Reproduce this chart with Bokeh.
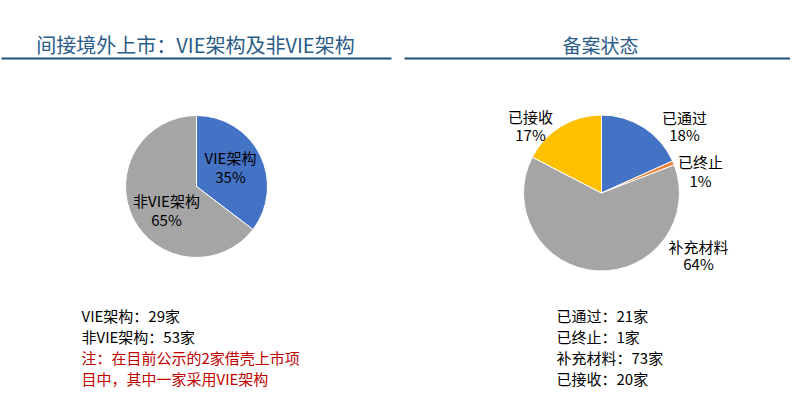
import math
from bokeh.plotting import figure
from bokeh.models import Range1d, ColumnDataSource
from bokeh.core.properties import value
from bokeh.embed import file_html
from bokeh.resources import INLINE

# ---- data ----
left_title = "间接境外上市：VIE架构及非VIE架构"
right_title = "备案状态"

left_cats = ["VIE架构", "非VIE架构"]
left_vals = [29, 53]
left_pcts = ["35%", "65%"]
left_colors = ["#4472C4", "#A5A5A5"]

right_cats = ["已通过", "已终止", "补充材料", "已接收"]
right_vals = [21, 1, 73, 20]
right_pcts = ["18%", "1%", "64%", "17%"]
right_colors = ["#4472C4", "#ED7D31", "#A5A5A5", "#FFC000"]

left_notes = ["VIE架构：29家", "非VIE架构：53家"]
left_red_notes = ["注：在目前公示的2家借壳上市项", "目中，其中一家采用VIE架构"]
right_notes = ["已通过：21家", "已终止：1家", "补充材料：73家", "已接收：20家"]

W, H = 790, 400
FONT = value("Noto Sans CJK SC")
NAVY = "#1F4E79"
TITLE_COLOR = "#2B5C88"


def py(y):  # page pixel y -> data y
    return H - y


def px(x):
    return x


p = figure(width=W, height=H, output_backend="svg", toolbar_location=None,
           x_range=Range1d(0, W), y_range=Range1d(0, H),
           x_axis_type=None, y_axis_type=None, min_border=0)
p.grid.visible = False
p.outline_line_color = None
p.background_fill_color = "white"
p.border_fill_color = "white"


def pie(cx, cy, r, vals, colors):
    tot = float(sum(vals))
    starts, ends = [], []
    acc = 0.0
    for v in vals:
        starts.append(math.pi / 2 - acc / tot * 2 * math.pi)
        acc += v
        ends.append(math.pi / 2 - acc / tot * 2 * math.pi)
    src = ColumnDataSource(dict(x=[cx] * len(vals), y=[cy] * len(vals),
                                start=starts, end=ends, color=colors))
    p.wedge(x="x", y="y", radius=r, radius_units="screen", start_angle="start",
            end_angle="end", direction="clock", fill_color="color",
            line_color="white", line_width=1, source=src)


pie(px(196), py(186), 71, left_vals, left_colors)
pie(px(601), py(192.5), 78, right_vals, right_colors)

# titles
p.text(x=[px(195)], y=[py(44)], text=[left_title], text_font=FONT,
       text_font_size="20px", text_color=TITLE_COLOR, text_align="center",
       text_baseline="middle")
p.text(x=[px(600)], y=[py(44)], text=[right_title], text_font=FONT,
       text_font_size="19px", text_color=TITLE_COLOR, text_align="center",
       text_baseline="middle")
p.segment(x0=[px(1), px(404)], y0=[py(58), py(58)], x1=[px(391), px(790)],
          y1=[py(58), py(58)], line_color=NAVY, line_width=2)

# pie labels
lpos = [(230, 157, 176), (166, 200, 219)]
for (x, y1, y2), c, pc in zip(lpos, left_cats, left_pcts):
    p.text(x=[px(x), px(x)], y=[py(y1), py(y2)], text=[c, pc], text_font=FONT,
           text_font_size="15px", text_color="#000000", text_align="center",
           text_baseline="middle")

rpos = [(684, 117, 134), (700, 161, 180), (698, 246, 263), (530, 116, 134)]
for (x, y1, y2), c, pc in zip(rpos, right_cats, right_pcts):
    p.text(x=[px(x), px(x)], y=[py(y1), py(y2)], text=[c, pc], text_font=FONT,
           text_font_size="15px", text_color="#000000", text_align="center",
           text_baseline="middle")

# notes
ys = [315, 336, 357, 378]
p.text(x=[px(81)] * 2, y=[py(ys[0]), py(ys[1])], text=left_notes, text_font=FONT,
       text_font_size="15px", text_color="#000000", text_align="left",
       text_baseline="middle")
p.text(x=[px(81)] * 2, y=[py(ys[2]), py(ys[3])], text=left_red_notes, text_font=FONT,
       text_font_size="15px", text_color="#C00000", text_align="left",
       text_baseline="middle")
p.text(x=[px(556)] * 4, y=[py(y) for y in ys], text=right_notes, text_font=FONT,
       text_font_size="15px", text_color="#000000", text_align="left",
       text_baseline="middle")

open("out.html", "w").write(file_html(p, INLINE))
